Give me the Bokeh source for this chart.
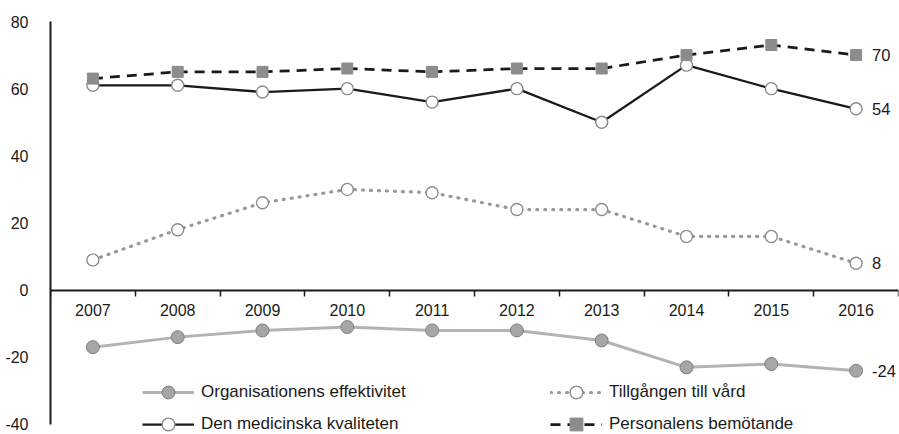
from bokeh.plotting import figure
from bokeh.models import Range1d, FixedTicker, LinearAxis, Legend, LegendItem, ColumnDataSource
from bokeh.core.properties import value
from bokeh.embed import file_html
from bokeh.resources import INLINE

years = ["2007", "2008", "2009", "2010", "2011", "2012", "2013", "2014", "2015", "2016"]
organisation = [-17, -14, -12, -11, -12, -12, -15, -23, -22, -24]
medicinska = [61, 61, 59, 60, 56, 60, 50, 67, 60, 54]
tillgang = [9, 18, 26, 30, 29, 24, 24, 16, 16, 8]
bemotande = [63, 65, 65, 66, 65, 66, 66, 70, 73, 70]
y_ticks = [-40, -20, 0, 20, 40, 60, 80]

FONT = "Liberation Sans"
TXT = "#1a1a1a"

xs = [i + 0.5 for i in range(len(years))]

p = figure(width=899, height=434, output_backend="svg", toolbar_location=None,
           x_range=Range1d(0, len(years)), y_range=Range1d(y_ticks[0] - 3, y_ticks[-1]),
           min_border_left=50, min_border_right=1, min_border_top=21, min_border_bottom=0,
           x_axis_location=None, y_axis_location=None)
p.outline_line_color = None
p.grid.visible = False
p.background_fill_color = "white"

yaxis = LinearAxis(ticker=FixedTicker(ticks=y_ticks), bounds=(y_ticks[0], y_ticks[-1]),
                   axis_line_width=2, axis_line_color=TXT,
                   major_tick_line_color=None, minor_tick_line_color=None,
                   major_label_overrides={v: str(v) for v in y_ticks},
                   major_label_text_font=FONT, major_label_text_font_size="16px",
                   major_label_text_color=TXT, major_label_standoff=16)
p.add_layout(yaxis, "left")

xaxis_ticks = LinearAxis(fixed_location=0, ticker=FixedTicker(ticks=list(range(len(years) + 1))),
                         major_label_text_color=None, major_tick_out=6, major_tick_in=0,
                         major_tick_line_width=1.5, major_tick_line_color=TXT,
                         axis_line_width=2, axis_line_color=TXT, minor_tick_line_color=None)
p.add_layout(xaxis_ticks, "below")

xaxis_labels = LinearAxis(fixed_location=0, ticker=FixedTicker(ticks=xs),
                          major_label_overrides={x: y for x, y in zip(xs, years)},
                          major_tick_line_color=None, axis_line_color=None, minor_tick_line_color=None,
                          major_label_text_font=FONT, major_label_text_font_size="16px",
                          major_label_text_color=TXT, major_label_standoff=8)
p.add_layout(xaxis_labels, "below")

org_line = p.line(xs, organisation, line_color="#b3b3b3", line_width=3)
org_sc = p.scatter(xs, organisation, marker="circle", size=13, fill_color="#a6a6a6",
                   line_color="#7f7f7f", line_width=1)

till_line = p.line(xs, tillgang, line_color="#999999", line_width=3.2, line_dash="1 7", line_cap="round")
till_sc = p.scatter(xs, tillgang, marker="circle", size=12, fill_color="white",
                    line_color="#8c8c8c", line_width=1.4)

med_line = p.line(xs, medicinska, line_color=TXT, line_width=2.25)
med_sc = p.scatter(xs, medicinska, marker="circle", size=12, fill_color="white",
                   line_color="#8c8c8c", line_width=1.4)

bem_line = p.line(xs, bemotande, line_color=TXT, line_width=2.75, line_dash="10 7")
bem_sc = p.scatter(xs, bemotande, marker="square", size=11, fill_color="#8c8c8c",
                   line_color="#8c8c8c", line_width=1)

last_vals = [bemotande[-1], medicinska[-1], tillgang[-1], organisation[-1]]
src = ColumnDataSource(dict(x=[xs[-1]] * len(last_vals), y=last_vals, t=[str(v) for v in last_vals]))
p.text(x="x", y="y", text="t", source=src, x_offset=16, text_baseline="middle", text_align="left",
       text_font=value(FONT), text_font_size="16.5px", text_color=TXT)


def make_legend(items, loc):
    leg = Legend(items=items, location=loc, border_line_color=None, background_fill_alpha=0,
                 padding=0, margin=0, spacing=-3, glyph_width=52, glyph_height=32,
                 label_height=18, label_standoff=7, label_text_font=FONT,
                 label_text_font_size="17px", label_text_color=TXT)
    p.add_layout(leg)


make_legend([LegendItem(label="Organisationens effektivitet", renderers=[org_line, org_sc]),
             LegendItem(label="Den medicinska kvaliteten", renderers=[med_line, med_sc])], (92, -6))
make_legend([LegendItem(label="Tillgången till vård", renderers=[till_line, till_sc]),
             LegendItem(label="Personalens bemötande", renderers=[bem_line, bem_sc])], (500, -6))

open("out.html", "w").write(file_html(p, INLINE))
